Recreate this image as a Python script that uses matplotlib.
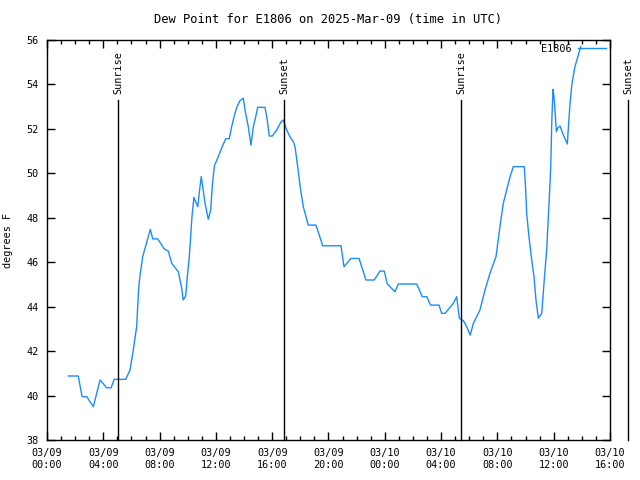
import numpy as np
import pandas as pd
import matplotlib
matplotlib.use("Agg")
import matplotlib.pyplot as plt
import matplotlib.dates as mdates

# hours after 2025-03-09 00:00 UTC, dew point in F
horas = [1.51, 2.22, 2.49, 2.82, 3.29, 3.77, 4.24, 4.55, 4.78, 5.59, 5.90, 6.13,
         6.37, 6.52, 6.61, 6.80, 7.13, 7.34, 7.51, 7.87, 8.33, 8.62, 8.86, 9.33,
         9.57, 9.68, 9.85, 9.97, 10.11, 10.23, 10.30, 10.44, 10.56, 10.71, 10.87,
         10.96, 11.06, 11.23, 11.46, 11.63, 11.74, 11.89, 12.17, 12.45, 12.70,
         12.95, 13.12, 13.31, 13.48, 13.71, 13.95, 14.07, 14.30, 14.49, 14.66,
         14.83, 14.97, 15.49, 15.65, 15.79, 16.01, 16.32, 16.63, 16.79, 17.03,
         17.26, 17.50, 17.62, 17.81, 18.02, 18.21, 18.56, 19.11, 19.59, 20.89,
         21.10, 21.60, 22.17, 22.66, 23.25, 23.66, 23.96, 24.18, 24.72, 24.96,
         26.27, 26.66, 26.98, 27.26, 27.85, 28.04, 28.28, 28.87, 29.11, 29.29,
         29.58, 29.82, 30.07, 30.29, 30.76, 31.12, 31.47, 31.90, 32.06, 32.23,
         32.42, 32.66, 32.90, 33.13, 33.91, 34.01, 34.08, 34.24, 34.44, 34.60,
         34.74, 34.91, 35.15, 35.31, 35.50, 35.67, 35.79, 35.86, 35.95, 36.02,
         36.09, 36.19, 36.28, 36.45, 36.68, 36.97, 37.04, 37.16, 37.30, 37.51,
         37.75, 37.92]
dewpoint = [40.88, 40.88, 39.95, 39.95, 39.5, 40.7, 40.35, 40.35, 40.73, 40.73,
            41.15, 42.05, 43.1, 44.9, 45.4, 46.25, 47.0, 47.48, 47.05, 47.05,
            46.6, 46.5, 45.95, 45.57, 44.83, 44.3, 44.48, 45.35, 46.25, 47.37,
            48.05, 48.92, 48.72, 48.5, 49.4, 49.85, 49.4, 48.65, 47.93, 48.35,
            49.4, 50.33, 50.75, 51.2, 51.56, 51.56, 52.1, 52.6, 52.97, 53.27,
            53.38, 52.85, 52.1, 51.27, 52.1, 52.55, 52.97, 52.97, 52.4, 51.68,
            51.68, 51.95, 52.32, 52.4, 51.95, 51.65, 51.42, 51.2, 50.3, 49.25,
            48.5, 47.67, 47.67, 46.74, 46.74, 45.8, 46.17, 46.17, 45.2, 45.2,
            45.6, 45.6, 45.02, 44.67, 45.02, 45.02, 44.45, 44.45, 44.07, 44.07,
            43.7, 43.7, 44.15, 44.45, 43.48, 43.37, 43.1, 42.72, 43.25, 43.85,
            44.75, 45.5, 46.25, 47.0, 47.82, 48.65, 49.25, 49.85, 50.3, 50.3,
            49.25, 48.2, 47.15, 46.1, 45.35, 44.3, 43.48, 43.7, 45.05, 46.55,
            48.65, 50.3, 52.25, 53.78, 53.45, 52.85, 51.87, 52.03, 52.13, 51.73,
            51.32, 52.03, 53.15, 54.05, 54.8, 55.33, 55.7]

eventos = ["Sunrise", "Sunset", "Sunrise", "Sunset"]
horas_eventos = [5.04, 16.84, 29.41, 41.28]

inicio = pd.Timestamp("2025-03-09 00:00")
tiempos = inicio + pd.to_timedelta(horas, unit="h")
tiempos_eventos = inicio + pd.to_timedelta(horas_eventos, unit="h")

plt.rcParams["font.family"] = ["DejaVu Sans Mono"]
plt.rcParams["font.size"] = 7.3

fig = plt.figure(figsize=(6.4, 4.8), dpi=100)
ax = fig.add_axes([47 / 640, 40 / 480, 563 / 640, 400 / 480])

ax.plot(tiempos, dewpoint, color="#1a8cff", lw=1, label="E1806")

for nombre, t in zip(eventos, tiempos_eventos):
    ax.plot([t, t], [0, 0.85], color="black", lw=1,
            transform=ax.get_xaxis_transform(), clip_on=False)
    ax.text(t, 0.865, nombre, rotation=90, ha="center", va="bottom",
            transform=ax.get_xaxis_transform(), clip_on=False)

ax.set_xlim(inicio, inicio + pd.Timedelta(hours=40))
ax.set_ylim(38, 56)
ax.set_yticks(np.arange(38, 57, 2))
ax.xaxis.set_major_locator(mdates.HourLocator(byhour=range(0, 24, 4)))
ax.xaxis.set_minor_locator(mdates.HourLocator())
ax.xaxis.set_major_formatter(mdates.DateFormatter("%m/%d\n%H:%M"))
ax.tick_params(which="both", direction="in", top=True, right=True, width=1)
ax.tick_params(which="major", length=6, pad=6)
ax.tick_params(which="minor", length=3)
ax.tick_params(axis="y", pad=6)
for s in ax.spines.values():
    s.set_linewidth(1)

ax.set_title("Dew Point for E1806 on 2025-Mar-09 (time in UTC)", pad=12)
ax.set_ylabel("degrees F", labelpad=10)
ax.legend(loc="upper right", frameon=False, markerfirst=False,
          handlelength=2.8, borderaxespad=0.1, borderpad=0.25, handletextpad=0.6)

plt.savefig("out.png")
